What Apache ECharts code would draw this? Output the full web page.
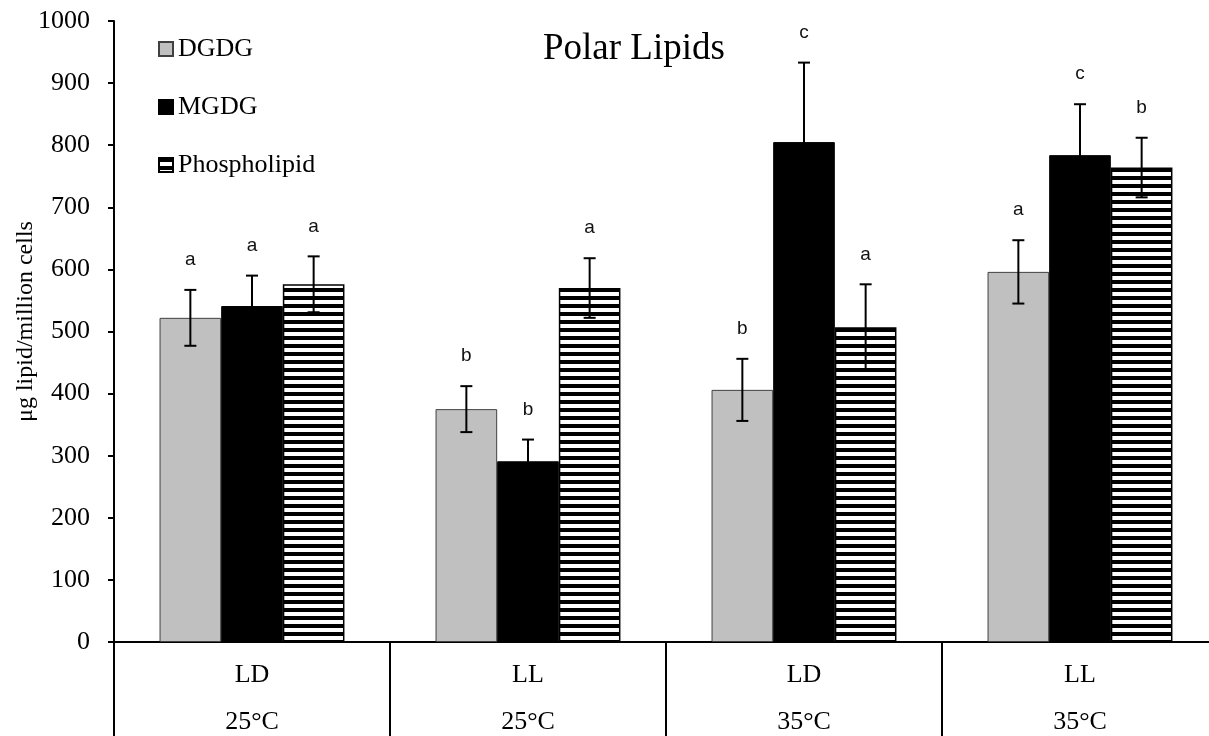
<!DOCTYPE html>
<html>
<head>
<meta charset="utf-8">
<script src="https://cdn.jsdelivr.net/npm/echarts@6/dist/echarts.min.js"></script>
<style>
  html, body { margin: 0; padding: 0; background: #fff; }
  #main { width: 1209px; height: 736px; }
</style>
</head>
<body>
<div id="main"></div>
<script>
// categories (two label rows)
const regimes = ['LD', 'LL', 'LD', 'LL'];
const temps = ['25°C', '25°C', '35°C', '35°C'];

// series values
const dgdg = [522, 375, 406, 596];
const dgdgErr = [45, 37, 50, 51];
const dgdgSig = ['a', 'b', 'b', 'a'];

const mgdg = [541, 291, 805, 784];
const mgdgErr = [49, 35, 128, 82];
const mgdgSig = ['a', 'b', 'c', 'c'];

const phos = [576, 570, 507, 764];
const phosErr = [45, 48, 69, 48];
const phosSig = ['a', 'a', 'a', 'b'];

const yTicks = [0, 100, 200, 300, 400, 500, 600, 700, 800, 900, 1000];

const SERIF = '"Liberation Serif", "Times New Roman", serif';
const SANS = '"Liberation Sans", Arial, sans-serif';
const GAP = 0.33; // barCategoryGap

// striped fill for phospholipid
function stripes() {
  const c = document.createElement('canvas');
  c.width = 8; c.height = 8;
  const ctx = c.getContext('2d');
  ctx.fillStyle = '#ffffff';
  ctx.fillRect(0, 0, 8, 8);
  ctx.fillStyle = '#000000';
  ctx.fillRect(0, 0, 8, 4);
  return c;
}

const chart = echarts.init(document.getElementById('main'), null, { renderer: 'canvas' });

// error bars + letters, drawn on top of bar k of 3
function errSeries(k, vals, errs, sigs) {
  return {
    type: 'custom',
    z: 5,
    silent: true,
    data: vals.map((v, i) => [i, v, errs[i]]),
    renderItem: function (params, api) {
      const band = api.size([1, 0])[0];
      const bw = band * (1 - GAP) / 3;
      const c = api.coord([api.value(0), api.value(1)]);
      const x = c[0] + (k - 1) * bw;
      const top = api.coord([api.value(0), api.value(1) + api.value(2)])[1];
      const bot = api.coord([api.value(0), api.value(1) - api.value(2)])[1];
      const st = { stroke: '#000', lineWidth: 2 };
      return {
        type: 'group',
        children: [
          { type: 'line', shape: { x1: x, y1: top, x2: x, y2: bot }, style: st },
          { type: 'line', shape: { x1: x - 6, y1: top, x2: x + 6, y2: top }, style: st },
          { type: 'line', shape: { x1: x - 6, y1: bot, x2: x + 6, y2: bot }, style: st },
          {
            type: 'text',
            x: x, y: top - 30,
            style: {
              text: sigs[params.dataIndex],
              font: '19px ' + SANS,
              fill: '#111',
              align: 'center',
              verticalAlign: 'middle'
            }
          }
        ]
      };
    }
  };
}

const option = {
  backgroundColor: '#ffffff',
  animation: false,
  title: {
    text: 'Polar Lipids',
    left: 538,
    top: 26,
    textStyle: { fontFamily: SERIF, fontSize: 37, fontWeight: 'normal', color: '#000' }
  },
  legend: {
    orient: 'vertical',
    left: 153,
    top: 31,
    itemGap: 32,
    itemWidth: 14,
    itemHeight: 14,
    icon: 'rect',
    textStyle: { fontFamily: SERIF, fontSize: 26, color: '#000' },
    data: ['DGDG', 'MGDG', 'Phospholipid']
  },
  grid: { left: 114, right: -9, top: 21, bottom: 94, outerBoundsMode: 'none', containLabel: false },
  xAxis: {
    type: 'category',
    data: regimes.map((r, i) => r + '\n' + temps[i]),
    axisLine: { lineStyle: { color: '#000', width: 2 } },
    axisTick: { show: true, length: 96, lineStyle: { color: '#000', width: 2 } },
    axisLabel: {
      margin: 10,
      fontFamily: SERIF, fontSize: 26, color: '#000',
      lineHeight: 47
    }
  },
  yAxis: {
    type: 'value',
    min: 0, max: 1000, interval: 100,
    name: 'μg lipid/million cells',
    nameLocation: 'middle',
    nameGap: 76,
    nameMoveOverlap: false,
    nameTextStyle: { fontFamily: SERIF, fontSize: 24, color: '#000', padding: [0, 0, 0, 20] },
    axisLine: { show: true, lineStyle: { color: '#000', width: 2 } },
    axisTick: { show: true, length: 6, lineStyle: { color: '#000', width: 2 } },
    axisLabel: {
      margin: 24,
      fontFamily: SERIF, fontSize: 26, color: '#000',
      formatter: function (v) { return yTicks.indexOf(v) >= 0 ? String(v) : ''; }
    },
    splitLine: { show: false }
  },
  series: [
    {
      name: 'DGDG', type: 'bar', data: dgdg,
      barGap: '0%', barCategoryGap: (GAP * 100) + '%',
      itemStyle: { color: '#c0c0c0', borderColor: '#404040', borderWidth: 1 }
    },
    {
      name: 'MGDG', type: 'bar', data: mgdg,
      itemStyle: { color: '#000000', borderColor: '#000', borderWidth: 1 }
    },
    {
      name: 'Phospholipid', type: 'bar', data: phos,
      itemStyle: {
        color: { image: stripes(), repeat: 'repeat' },
        borderColor: '#000', borderWidth: 1.5
      }
    },
    errSeries(0, dgdg, dgdgErr, dgdgSig),
    errSeries(1, mgdg, mgdgErr, mgdgSig),
    errSeries(2, phos, phosErr, phosSig)
  ]
};

chart.setOption(option);
</script>
</body>
</html>
